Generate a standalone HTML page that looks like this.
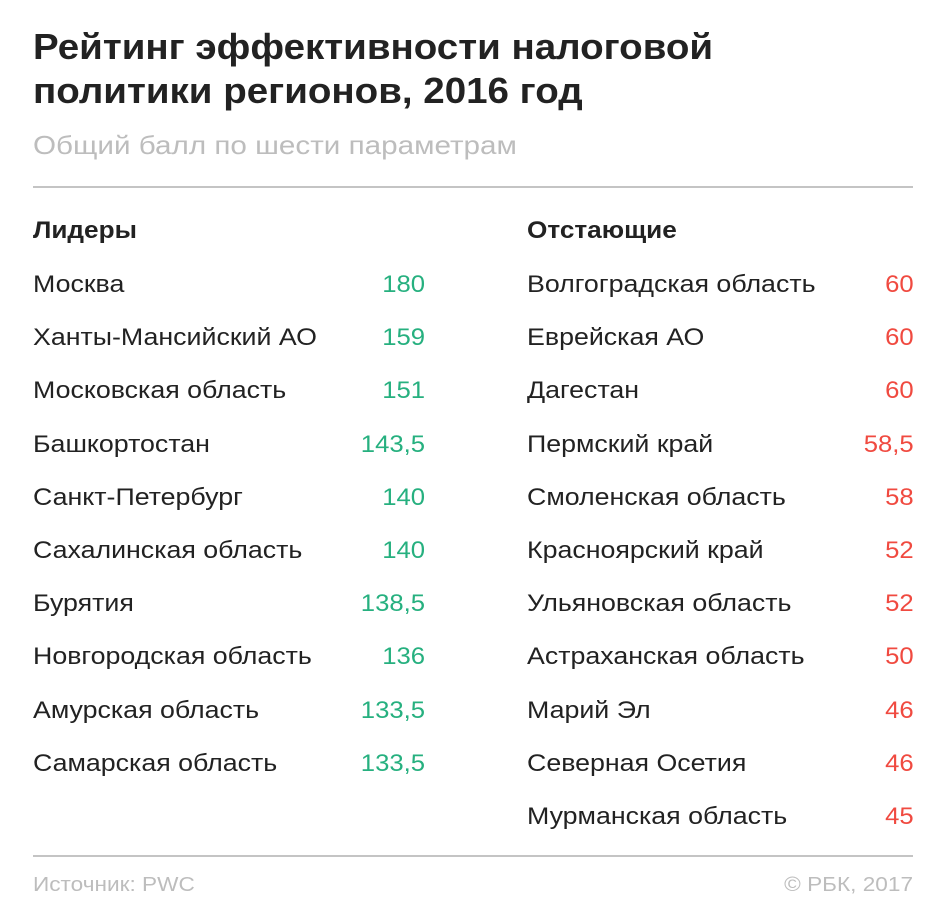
<!DOCTYPE html>
<html><head><meta charset="utf-8"><style>
body{margin:0;width:945px;height:920px;background:#fff;font-family:"Liberation Sans",sans-serif;position:relative;overflow:hidden;color:#222}
.t{position:absolute;left:33px;font-weight:bold;font-size:36px;line-height:44px;top:25px;color:#222;transform:scaleX(1.07);transform-origin:left}
.s{position:absolute;left:33px;top:130px;font-size:26px;color:#bdbdbd;transform:scaleX(1.14);transform-origin:left}
.hr{position:absolute;left:33px;width:880px;height:2px;background:#c4c4c4}
.r{position:absolute;font-size:24px;line-height:30px;white-space:nowrap;transform:scaleX(1.115);transform-origin:left}
.h{font-weight:bold;transform:scaleX(1.09)}
.g,.d{text-align:right;transform:scaleX(1.07);transform-origin:right}
.g{color:#26b07f}
.d{color:#f04a40}
.f{position:absolute;top:874px;font-size:20px;color:#bdbdbd;transform:scaleX(1.13)}
</style></head><body>
<div class="t">Рейтинг эффективности налоговой<br>политики регионов, 2016 год</div>
<div class="s">Общий балл по шести параметрам</div>
<div class="hr" style="top:186px"></div>
<div class="r h" style="left:33px;top:216px">Лидеры</div>
<div class="r h" style="left:527px;top:216px">Отстающие</div>
<div id="L"></div>
<div class="hr" style="top:855px"></div>
<div class="f" style="left:33px;transform-origin:left">Источник: PWC</div>
<div class="f" style="right:32px;transform-origin:right">© РБК, 2017</div>
<script>
var L=[["Москва","180"],["Ханты-Мансийский АО","159"],["Московская область","151"],["Башкортостан","143,5"],["Санкт-Петербург","140"],["Сахалинская область","140"],["Бурятия","138,5"],["Новгородская область","136"],["Амурская область","133,5"],["Самарская область","133,5"]];
var R=[["Волгоградская область","60"],["Еврейская АО","60"],["Дагестан","60"],["Пермский край","58,5"],["Смоленская область","58"],["Красноярский край","52"],["Ульяновская область","52"],["Астраханская область","50"],["Марий Эл","46"],["Северная Осетия","46"],["Мурманская область","45"]];
var h="";
function add(a,x,nx,c){a.forEach(function(e,i){var y=270+i*53.2;
h+='<div class="r" style="left:'+x+'px;top:'+y+'px">'+e[0]+'</div>';
h+='<div class="r '+c+'" style="right:'+(945-nx)+'px;top:'+y+'px">'+e[1]+'</div>';});}
add(L,33,425,"g");add(R,527,914,"d");
document.getElementById("L").innerHTML=h;
</script>
</body></html>
